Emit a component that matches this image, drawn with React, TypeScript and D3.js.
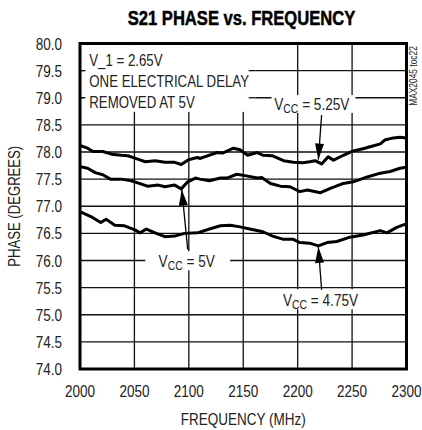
import * as d3 from "d3";
import type { ReactNode } from "react";

// frequency (MHz) / phase (degrees)
const vcc525: [number, number][] = [
  [2000, 78.12], [2007, 78.07], [2012, 78.01], [2021, 78.01], [2029, 77.96], [2038, 77.94],
  [2044, 77.93], [2053, 77.87], [2060, 77.82], [2069, 77.84], [2078, 77.81], [2087, 77.81],
  [2093, 77.77], [2099, 77.85], [2104, 77.88], [2108, 77.9], [2110, 77.88], [2117, 77.93],
  [2126, 77.99], [2131, 77.98], [2141, 78.07], [2147, 78.04], [2154, 77.94], [2163, 77.99],
  [2168, 77.94], [2177, 77.93], [2187, 77.84], [2196, 77.81], [2205, 77.8], [2211, 77.82],
  [2216, 77.84], [2222, 77.78], [2228, 77.91], [2233, 77.85], [2242, 77.94], [2251, 78.02],
  [2260, 78.06], [2269, 78.11], [2276, 78.15], [2280, 78.22], [2288, 78.26], [2294, 78.27],
  [2300, 78.26],
];
const vcc5: [number, number][] = [
  [2000, 77.73], [2007, 77.7], [2014, 77.62], [2021, 77.58], [2028, 77.5], [2038, 77.5],
  [2047, 77.47], [2053, 77.43], [2062, 77.37], [2072, 77.39], [2078, 77.36], [2087, 77.39],
  [2093, 77.32], [2099, 77.45], [2106, 77.52], [2110, 77.5], [2119, 77.47], [2129, 77.52],
  [2135, 77.52], [2144, 77.59], [2153, 77.56], [2163, 77.52], [2167, 77.53], [2175, 77.42],
  [2184, 77.37], [2193, 77.36], [2202, 77.27], [2209, 77.3], [2221, 77.25], [2230, 77.33],
  [2242, 77.42], [2251, 77.45], [2264, 77.54], [2276, 77.61], [2285, 77.64], [2294, 77.7],
  [2300, 77.72],
];
const vcc475: [number, number][] = [
  [2000, 76.9], [2010, 76.81], [2019, 76.7], [2024, 76.76], [2032, 76.65], [2041, 76.64],
  [2051, 76.56], [2055, 76.51], [2061, 76.58], [2069, 76.51], [2078, 76.44], [2087, 76.45],
  [2096, 76.5], [2108, 76.51], [2119, 76.58], [2129, 76.64], [2138, 76.65], [2147, 76.62],
  [2156, 76.58], [2168, 76.53], [2177, 76.45], [2187, 76.39], [2196, 76.39], [2202, 76.33],
  [2211, 76.32], [2219, 76.27], [2227, 76.33], [2236, 76.35], [2248, 76.43], [2260, 76.47],
  [2276, 76.55], [2282, 76.51], [2291, 76.61], [2299, 76.67],
];

const xTicks = [2000, 2050, 2100, 2150, 2200, 2250, 2300];
const yTicks = [74, 74.5, 75, 75.5, 76, 76.5, 77, 77.5, 78, 78.5, 79, 79.5, 80];

const noteLines = ["V_1 = 2.65V", "ONE ELECTRICAL DELAY", "REMOVED AT 5V"];

// label boxes and arrows, in data units
const callouts = [
  { rest: " = 5.25V", f: 2213, p: 78.89, box: [2176, 2253, 79.05, 78.72], from: [2222, 78.68], to: [2219, 77.86] },
  { rest: " = 5V", f: 2098, p: 76.0, box: [2060, 2138, 76.17, 75.82], from: [2099, 76.2], to: [2093.5, 77.31] },
  { rest: " = 4.75V", f: 2221, p: 75.27, box: [2184, 2259, 75.47, 75.1], from: [2222, 75.46], to: [2219, 76.25] },
];

const W = 422;
const H = 430;
const M = { top: 43.5, right: 15.5, bottom: 61, left: 80 };
const FONT = "'Liberation Sans', Arial, sans-serif";

// condensed text: Liberation Sans squeezed horizontally
function T({ x, y, size, sx = 0.8, anchor = "start", rotate = 0, bold = false, children }: {
  x: number; y: number; size: number; sx?: number; anchor?: string; rotate?: number; bold?: boolean; children: ReactNode;
}) {
  return (
    <text
      transform={`translate(${x},${y}) rotate(${rotate}) scale(${sx},1)`}
      textAnchor={anchor as any}
      fontSize={size}
      fontWeight={bold ? "bold" : "normal"}
      fill={bold ? "#000" : "#222"}
      stroke={bold ? "#000" : "none"}
      strokeWidth={bold ? 0.5 : 0}
    >
      {children}
    </text>
  );
}

export default function App() {
  const x = d3.scaleLinear().domain([2000, 2300]).range([M.left, W - M.right]);
  const y = d3.scaleLinear().domain([74, 80]).range([H - M.bottom, M.top]);
  const line = d3.line<[number, number]>().x((d) => x(d[0])).y((d) => y(d[1]));

  const arrowHead = (from: number[], to: number[]) => {
    const x0 = x(from[0]), y0 = y(from[1]);
    const x1 = x(to[0]), y1 = y(to[1]);
    const ang = Math.atan2(y1 - y0, x1 - x0);
    const len = 16, half = 4.5;
    const bx = x1 - len * Math.cos(ang), by = y1 - len * Math.sin(ang);
    const px = -Math.sin(ang) * half, py = Math.cos(ang) * half;
    return `M${x1},${y1}L${bx + px},${by + py}L${bx - px},${by - py}Z`;
  };

  return (
    <svg width={W} height={H} style={{ position: "absolute", left: 0, top: 0, background: "#fff" }} fontFamily={FONT}>
      <T x={241.5} y={25} size={21} sx={0.79} anchor="middle" bold>S21 PHASE vs. FREQUENCY</T>

      {/* grid */}
      <g stroke="#111" strokeWidth={1.3}>
        {xTicks.slice(1, -1).map((t) => (
          <line key={t} x1={x(t)} x2={x(t)} y1={y(80)} y2={y(74)} />
        ))}
        {yTicks.slice(1, -1).map((t) => (
          <line key={t} x1={x(2000)} x2={x(2300)} y1={y(t)} y2={y(t)} />
        ))}
      </g>

      {/* white boxes over the grid */}
      <rect x={x(2003)} y={y(79.97)} width={x(2161) - x(2003)} height={y(78.74) - y(79.97)} fill="#fff" />
      {callouts.map((c, i) => (
        <rect key={i} x={x(c.box[0])} y={y(c.box[2])} width={x(c.box[1]) - x(c.box[0])} height={y(c.box[3]) - y(c.box[2])} fill="#fff" />
      ))}

      {/* tick stubs inside note box */}
      <g stroke="#111" strokeWidth={1.3}>
        {[79.5, 79].map((t) => (
          <line key={t} x1={x(2000)} x2={x(2005)} y1={y(t)} y2={y(t)} />
        ))}
        {[79.5, 79].map((t) => (
          <line key={"r" + t} x1={x(2155)} x2={x(2161)} y1={y(t)} y2={y(t)} />
        ))}
      </g>

      {noteLines.map((s, i) => (
        <T key={s} x={x(2008.5)} y={66 + i * 21} size={17} sx={0.78}>{s}</T>
      ))}

      {/* curves */}
      <g fill="none" stroke="#000" strokeWidth={3} strokeLinejoin="round">
        <path d={line(vcc525) ?? ""} />
        <path d={line(vcc5) ?? ""} />
        <path d={line(vcc475) ?? ""} />
      </g>

      {/* callouts */}
      {callouts.map((c, i) => (
        <g key={i}>
          <line x1={x(c.from[0])} y1={y(c.from[1])} x2={x(c.to[0])} y2={y(c.to[1])} stroke="#000" strokeWidth={1.3} />
          <path d={arrowHead(c.from, c.to)} fill="#000" />
          <T x={x(c.f)} y={y(c.p) + 6} size={17} sx={0.8} anchor="middle">
            V<tspan fontSize={13} dy={3}>CC</tspan><tspan dy={-3}>{c.rest}</tspan>
          </T>
        </g>
      ))}

      {/* frame */}
      <rect x={x(2000)} y={y(80)} width={x(2300) - x(2000)} height={y(74) - y(80)} fill="none" stroke="#000" strokeWidth={3} />

      {/* axes labels */}
      {yTicks.map((t) => (
        <T key={t} x={62} y={y(t) + 6} size={16.5} sx={0.82} anchor="end">{t.toFixed(1)}</T>
      ))}
      {xTicks.map((t) => (
        <T key={t} x={x(t)} y={397} size={16.5} sx={0.82} anchor="middle">{t}</T>
      ))}
      <T x={(x(2000) + x(2300)) / 2} y={425} size={16.5} sx={0.82} anchor="middle">FREQUENCY (MHz)</T>
      <T x={20} y={(y(74) + y(80)) / 2} size={16} sx={0.82} anchor="middle" rotate={-90}>PHASE (DEGREES)</T>
      <T x={417} y={76} size={10.5} sx={0.8} anchor="middle" rotate={-90}>MAX2045 toc22</T>
    </svg>
  );
}
